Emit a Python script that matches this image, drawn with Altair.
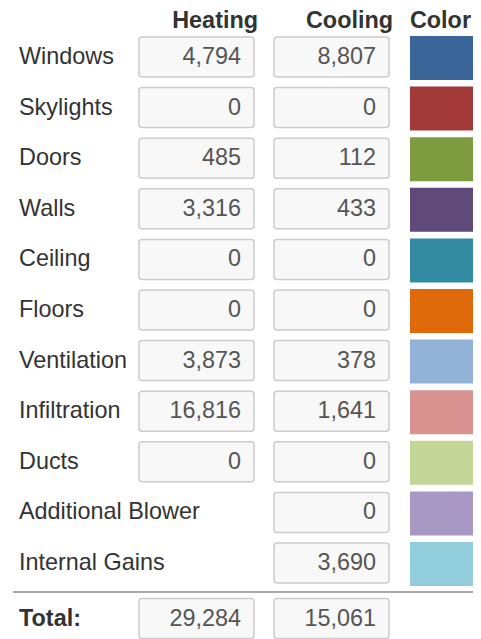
import altair as alt
import pandas as pd

names = ["Windows", "Skylights", "Doors", "Walls", "Ceiling", "Floors",
         "Ventilation", "Infiltration", "Ducts", "Additional Blower", "Internal Gains"]
heating = [4794, 0, 485, 3316, 0, 0, 3873, 16816, 0, None, None]
cooling = [8807, 0, 112, 433, 0, 0, 378, 1641, 0, 0, 3690]
colors = ["#3b6699", "#a23a3a", "#7d9c3f", "#5f4a7a", "#338ba1", "#de6a0b",
          "#93b2d8", "#d99290", "#c3d597", "#a899c4", "#92cddc"]
total_label = "Total:"
total_heating = [29284]
total_cooling = [15061]
headers = ["Heating", "Cooling", "Color"]

FONT = "Liberation Sans"
FS = 23.4

df = pd.DataFrame({"name": names, "heating": heating, "cooling": cooling, "color": colors})
tot = pd.DataFrame({"name": [total_label], "heating": total_heating, "cooling": total_cooling})

yscale = alt.Scale(type="band", domain=names + [total_label], range=[23.7, 630.9],
                   paddingInner=0, paddingOuter=0, round=False)
Y = alt.Y("name:N", scale=yscale, axis=None)

base = alt.Chart(df)

labels = base.mark_text(align="left", baseline="middle", font=FONT, fontSize=FS,
                        color="#333333").encode(x=alt.value(11), y=Y, text="name:N")

box_style = dict(height=40, cornerRadius=3, fill="#f8f8f8", stroke="#cccccc", strokeWidth=1.5)

hbox = base.transform_filter("isValid(datum.heating)").mark_rect(**box_style).encode(
    x=alt.value(131), x2=alt.value(246), y=Y)
htext = base.transform_filter("isValid(datum.heating)").mark_text(
    align="right", baseline="middle", font=FONT, fontSize=FS, color="#555555").encode(
    x=alt.value(233), y=Y, text=alt.Text("heating:Q", format=","))
cbox = base.mark_rect(**box_style).encode(x=alt.value(266), x2=alt.value(381), y=Y)
ctext = base.mark_text(align="right", baseline="middle", font=FONT, fontSize=FS,
                       color="#555555").encode(
    x=alt.value(368), y=Y, text=alt.Text("cooling:Q", format=","))
swatch = base.mark_rect(height=44, yOffset=1).encode(
    x=alt.value(402), x2=alt.value(480), y=Y,
    color=alt.Color("name:N", scale=alt.Scale(domain=names, range=colors), legend=None))

tbase = alt.Chart(tot)
tlabel = tbase.mark_text(align="left", baseline="middle", font=FONT, fontSize=FS,
                         fontWeight="bold", color="#333333", yOffset=5).encode(
    x=alt.value(11), y=Y, text="name:N")
thbox = tbase.mark_rect(yOffset=5, **box_style).encode(x=alt.value(131), x2=alt.value(246), y=Y)
thtext = tbase.mark_text(align="right", baseline="middle", font=FONT, fontSize=FS,
                         color="#555555", yOffset=5).encode(
    x=alt.value(233), y=Y, text=alt.Text("heating:Q", format=","))
tcbox = tbase.mark_rect(yOffset=5, **box_style).encode(x=alt.value(266), x2=alt.value(381), y=Y)
tctext = tbase.mark_text(align="right", baseline="middle", font=FONT, fontSize=FS,
                         color="#555555", yOffset=5).encode(
    x=alt.value(368), y=Y, text=alt.Text("cooling:Q", format=","))

sep = tbase.mark_rule(color="#aaaaaa", strokeWidth=2).encode(
    x=alt.value(5), x2=alt.value(480), y=alt.value(584))

hdr_df = pd.DataFrame({"h": headers})
def header(i, x, align):
    return alt.Chart(hdr_df).transform_filter(alt.datum.h == headers[i]).mark_text(
        align=align, baseline="alphabetic", font=FONT, fontSize=FS, fontWeight="bold",
        color="#333333").encode(x=alt.value(x), y=alt.value(20), text="h:N")

hdrs = header(0, 250, "right") + header(1, 385, "right") + header(2, 463, "right")

chart = alt.layer(
    labels, hbox, htext, cbox, ctext, swatch,
    sep, tlabel, thbox, thtext, tcbox, tctext, hdrs
).properties(
    width=465, height=631, autosize="none", padding=0
).configure_view(stroke=None)

chart.save("out.html", embed_options={"renderer": "svg", "actions": False})
